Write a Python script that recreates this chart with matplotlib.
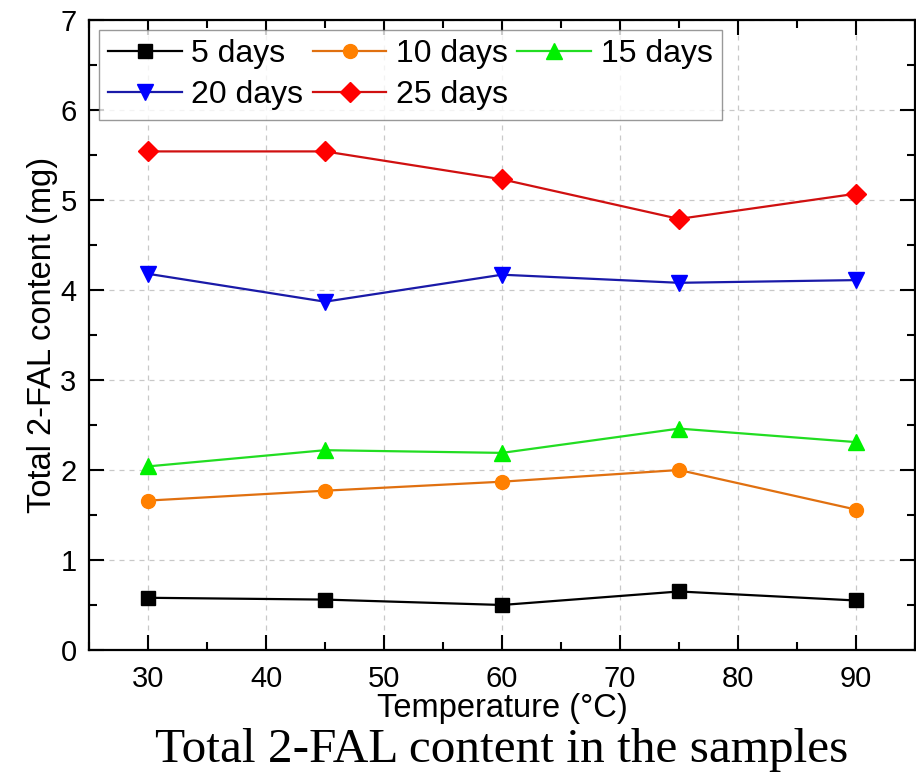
"""Total 2-FAL content vs temperature for several ageing durations."""

import matplotlib

matplotlib.use("Agg")
import matplotlib.pyplot as plt
from matplotlib.ticker import MultipleLocator

temperature = [30, 45, 60, 75, 90]

days_5 = [0.58, 0.56, 0.50, 0.65, 0.55]
days_10 = [1.66, 1.77, 1.87, 2.00, 1.56]
days_15 = [2.04, 2.22, 2.19, 2.46, 2.31]
days_20 = [4.18, 3.87, 4.17, 4.08, 4.11]
days_25 = [5.54, 5.54, 5.23, 4.79, 5.07]

labels = ["5 days", "10 days", "15 days", "20 days", "25 days"]

plt.rcParams["font.family"] = ["Liberation Sans", "DejaVu Sans"]

fig = plt.figure(figsize=(9.16, 7.76), dpi=100)
ax = fig.add_axes([0.0972, 0.1624, 0.9017, 0.8118])

series = [
    (days_5, "#000000", "#000000", "s", 10),
    (days_10, "#FF8000", "#E07010", "o", 10),
    (days_15, "#00F000", "#22DD22", "^", 11),
    (days_20, "#0000FF", "#1A1AA8", "v", 11),
    (days_25, "#FF0000", "#D01010", "D", 10),
]

handles = []
for (values, mcolor, lcolor, marker, size), label in zip(series, labels):
    (line,) = ax.plot(temperature, values, color=lcolor, lw=1.6,
                      marker=marker, markersize=size,
                      markerfacecolor=mcolor, markeredgecolor=mcolor,
                      label=label)
    handles.append(line)

ax.set_xlim(25, 95)
ax.set_ylim(0, 7)
ax.xaxis.set_major_locator(MultipleLocator(10))
ax.xaxis.set_minor_locator(MultipleLocator(5))
ax.yaxis.set_major_locator(MultipleLocator(1))
ax.yaxis.set_minor_locator(MultipleLocator(0.5))
ax.tick_params(which="both", direction="in", top=True, right=True,
               labelsize=21, width=1.5)
ax.tick_params(which="major", length=11)
ax.tick_params(which="minor", length=6)
ax.tick_params(axis="x", labeltop=False, pad=11)
ax.tick_params(axis="y", labelright=False, pad=9)

for spine in ax.spines.values():
    spine.set_linewidth(1.6)

ax.grid(True, which="major", ls=(0, (4, 4)), color="#c8c8c8", lw=0.9)
ax.set_axisbelow(True)

ax.set_xlabel("Temperature (°C)", fontsize=23.5, labelpad=0)
ax.set_ylabel("Total 2-FAL content (mg)", fontsize=23.5, labelpad=2)

# legend fills column by column, so reorder to read row by row
order = [0, 3, 1, 4, 2]
leg = ax.legend([handles[i] for i in order], [labels[i] for i in order],
                ncol=3, loc="upper left", bbox_to_anchor=(0.0, 1.0),
                fontsize=23, frameon=True, fancybox=False,
                edgecolor="#808080", handlelength=2.3, handletextpad=0.3,
                columnspacing=0.3, labelspacing=0.35, borderpad=0.3,
                borderaxespad=0.3)
leg.get_frame().set_linewidth(1.0)

fig.text(0.548, 0.005, "Total 2-FAL content in the samples",
         family=["Liberation Serif", "DejaVu Serif"], fontsize=35.5,
         ha="center", va="bottom")

fig.savefig("out.png", dpi=100)
